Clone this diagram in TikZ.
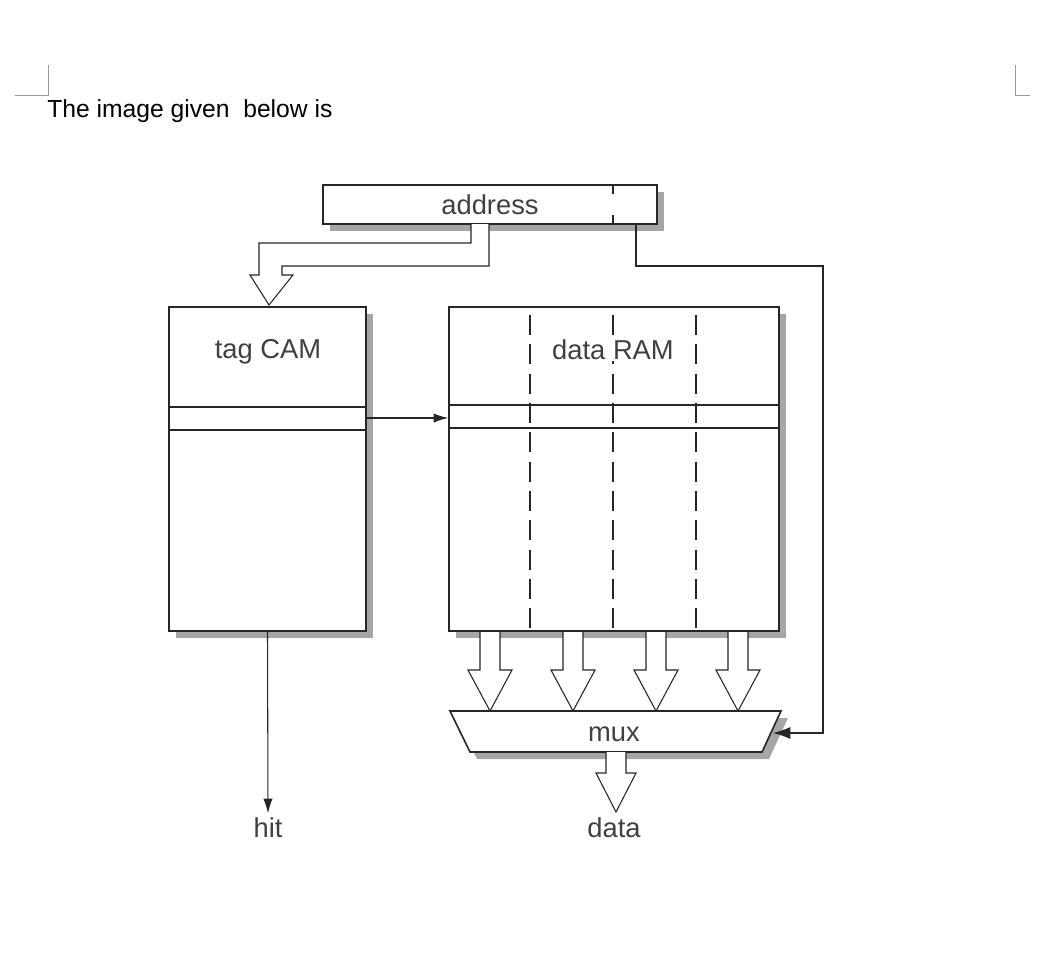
\documentclass[tikz,border=0pt]{standalone}
\usepackage{fontspec}
\setmainfont{Liberation Sans}
\usetikzlibrary{shadows,arrows.meta}
\begin{document}
\begin{tikzpicture}[x=0.75pt,y=-0.75pt,
  box/.style={draw=black!85,line width=1.2pt,fill=white,inner sep=0pt,
    drop shadow={shadow xshift=5pt,shadow yshift=-5pt,fill=black!35,opacity=1}},
  lbl/.style={text=black!75,font=\fontsize{20.5}{24}\selectfont},
  ln/.style={draw=black!85,line width=0.8pt},
  fat/.style={draw=black!85,line width=0.8pt,fill=white}]
\useasboundingbox (0,0) rectangle (1044,952);
% corner marks
\draw[black!40,line width=0.6pt] (15,95) -- (48,95) -- (48,65);
\draw[black!40,line width=0.6pt] (1030,95) -- (1015,95) -- (1015,65);
\node[anchor=west,font=\fontsize{18.5}{22}\selectfont,inner sep=0pt] (hdr) at (47,111) {The image given\ \ below is};
% boxes
\node[box,minimum width=250.5pt,minimum height=29.25pt] (addr) at (490,204.5) {};
\node[lbl] at (addr.center) {address};
\draw[ln] (613,185) -- (613,194) (613,215) -- (613,224);
\node[box,minimum width=147.75pt,minimum height=243pt] (cam) at (267.5,469) {};
\node[box,minimum width=247.5pt,minimum height=243pt] (ram) at (614,469) {};
\foreach \x in {530,613,696}
  \draw[ln,dash pattern=on 15pt off 7pt,dash phase=-6pt] (\x,307) -- (\x,631);
\node[lbl] (camt) at (268,352) {tag CAM};
\node[lbl,fill=white,inner sep=1pt] (ramt) at (613,350) {data RAM};
\draw[ln] (169,407) -- (366,407) (169,430) -- (366,430);
\draw[ln] (449,405) -- (779,405) (449,428) -- (779,428);
% address fat arrow to CAM
\draw[fat] (471,224) -- (471,243) -- (259,243) -- (259,275) -- (250,275) -- (269,305)
  -- (293,275) -- (282,275) -- (282,266) -- (489,266) -- (489,224);
% CAM to RAM
\draw[ln,-{Latex[length=11pt,width=7pt]}] (cam.east |- 0,418) -- (ram.west |- 0,418);
% mux
\fill[black!35] (457,718) -- (788,718) -- (769,759) -- (477,759) -- cycle;
\draw[fat,line width=1.2pt] (450,711) -- (781,711) -- (762,752) -- (470,752) -- cycle;
\node[lbl] (mux) at (614,734) {mux};
% RAM fat arrows
\foreach \x in {490,573,656,738}
  \draw[fat] (\x-10,632) -- (\x-10,670) -- (\x-22,670) -- (\x,711) -- (\x+22,670)
    -- (\x+10,670) -- (\x+10,632);
% data
\draw[fat] (606,752) -- (606,773) -- (596,773) -- (616,812) -- (636,773) -- (626,773) -- (626,752);
\node[lbl] (data) at (614,828) {data};
\node[lbl] (hit) at (268,828) {hit};
\draw[ln,-{Latex[length=11pt,width=7pt]}] (cam.south) -- (hit.north);
% address to mux
\draw[ln,-{Latex[length=13pt,width=9pt]}] (636,224) -- (636,266) -- (823,266) -- (823,733) -- (773,733);
\end{tikzpicture}
\end{document}
